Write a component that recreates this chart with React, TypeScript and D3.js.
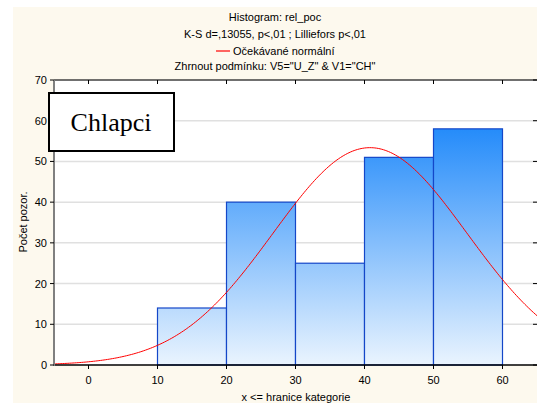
import React from "react";
import * as d3 from "d3";

const binEdges = [10, 20, 30, 40, 50, 60];
const binCounts = [14, 40, 25, 51, 58];
const xTicks = [0, 10, 20, 30, 40, 50, 60];
const yTicks = [0, 10, 20, 30, 40, 50, 60, 70];
const titleLines = [
  "Histogram: rel_poc",
  "K-S d=,13055, p<,01 ; Lilliefors p<,01",
];
const legendLabel = "Očekávané normální";
const conditionLine = 'Zhrnout podmínku: V5="U_Z" & V1="CH"';
const fitMean = 40.8;
const fitSd = 14.05;
const binWidth = 10;

export default function App() {
  const W = 537, H = 405;
  const left = 54, right = 537, top = 80, bottom = 365;
  const x = d3.scaleLinear().domain([-5, 65]).range([left, right]);
  const y = d3.scaleLinear().domain([0, 70]).range([bottom, top]);
  const N = d3.sum(binCounts);
  const pdf = (v: number) =>
    (N * binWidth) / (fitSd * Math.sqrt(2 * Math.PI)) *
    Math.exp(-0.5 * ((v - fitMean) / fitSd) ** 2);
  const curvePts = d3.range(-5, 65.01, 0.25).map((v) => [v, pdf(v)] as [number, number]);
  const line = d3.line<[number, number]>().x((d) => x(d[0])).y((d) => y(d[1]));
  const font = "'Liberation Sans', Arial, sans-serif";

  return (
    <svg width={W} height={H} style={{ position: "absolute", left: 0, top: 0 }}>
      <defs>
        <linearGradient id="barGrad" gradientUnits="userSpaceOnUse" x1={0} y1={y(60)} x2={0} y2={y(0)}>
          <stop offset="0%" stopColor="#1E88FA" />
          <stop offset="100%" stopColor="#EAF4FE" />
        </linearGradient>
        <clipPath id="plotClip">
          <rect x={left} y={top} width={right - left} height={bottom - top} />
        </clipPath>
      </defs>
      <rect x={0} y={0} width={W} height={H} fill="#ffffff" />
      <rect x={13} y={7} width={W - 13} height={H - 9} fill="#FDF9EE" />
      <rect x={left} y={top} width={right - left} height={bottom - top} fill="#ffffff" />
      {yTicks.filter((t) => t > 0 && t < 70).map((t) => (
        <line key={"g" + t} x1={left} x2={right} y1={y(t)} y2={y(t)} stroke="#E0E0E0" strokeWidth={1.5} />
      ))}
      {binCounts.map((c, i) => (
        <rect
          key={"b" + i}
          x={x(binEdges[i])}
          y={y(c)}
          width={x(binEdges[i + 1]) - x(binEdges[i])}
          height={y(0) - y(c)}
          fill="url(#barGrad)"
          stroke="#1447C8"
          strokeWidth={1.2}
        />
      ))}
      <path d={line(curvePts) || ""} fill="none" stroke="#FF0000" strokeWidth={1} clipPath="url(#plotClip)" />
      {/* axes */}
      <line x1={left} x2={right} y1={top} y2={top} stroke="#404040" strokeWidth={1.5} />
      <line x1={left} x2={right} y1={bottom} y2={bottom} stroke="#000" strokeWidth={1.5} />
      <line x1={left} x2={left} y1={top} y2={bottom + 1} stroke="#808080" strokeWidth={2} />
      {xTicks.map((t) => (
        <g key={"xt" + t}>
          <line x1={x(t)} x2={x(t)} y1={top} y2={top + 4} stroke="#000" />
          <line x1={x(t)} x2={x(t)} y1={bottom} y2={bottom + 4} stroke="#000" />
          <text x={x(t)} y={bottom + 19} textAnchor="middle" fontFamily={font} fontSize={11} fill="#000">
            {t}
          </text>
        </g>
      ))}
      {yTicks.map((t) => (
        <g key={"yt" + t}>
          <line x1={left - 4} x2={left} y1={y(t)} y2={y(t)} stroke="#000" />
          <line x1={right - 4} x2={right} y1={y(t)} y2={y(t)} stroke="#000" />
          <text x={left - 7} y={y(t) + 4} textAnchor="end" fontFamily={font} fontSize={11} fill="#000">
            {t}
          </text>
        </g>
      ))}
      {/* titles */}
      {titleLines.map((s, i) => (
        <text key={"t" + i} x={275} y={21 + i * 17} textAnchor="middle" fontFamily={font} fontSize={11} fill="#000">
          {s}
        </text>
      ))}
      <line x1={216} x2={230} y1={51} y2={51} stroke="#FF0000" strokeWidth={1.2} />
      <text x={233} y={55} fontFamily={font} fontSize={11} fill="#000">{legendLabel}</text>
      <text x={275} y={70} textAnchor="middle" fontFamily={font} fontSize={11} fill="#000">{conditionLine}</text>
      <text x={296} y={401} textAnchor="middle" fontFamily={font} fontSize={11} fill="#000">x &lt;= hranice kategorie</text>
      <text
        transform="translate(27,222) rotate(-90)"
        textAnchor="middle"
        fontFamily={font}
        fontSize={11}
        fill="#000"
      >
        Počet pozor.
      </text>
      {/* label box */}
      <rect x={49} y={93} width={125} height={58} fill="#fff" stroke="#000" strokeWidth={2} />
      <text x={111} y={131} textAnchor="middle" fontFamily="'Liberation Serif', 'Times New Roman', serif" fontSize={26} fill="#000">
        Chlapci
      </text>
    </svg>
  );
}
